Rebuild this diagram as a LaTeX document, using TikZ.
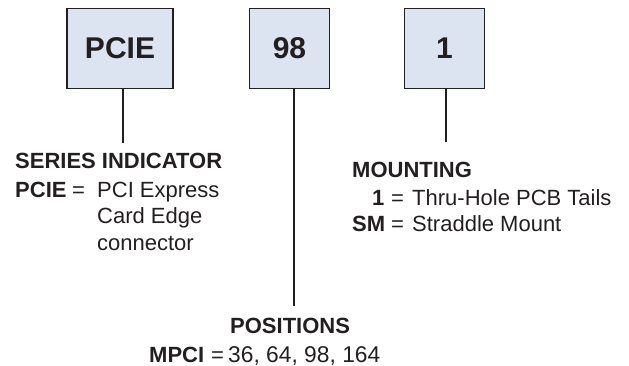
\documentclass[tikz,border=0pt]{standalone}
\usepackage{fontspec}
\setmainfont{Liberation Sans}
\usetikzlibrary{positioning}
\definecolor{boxfill}{HTML}{DDE4F1}
\definecolor{ink}{HTML}{231F20}
\begin{document}
\begin{tikzpicture}[x=1pt,y=-1pt]
\tikzset{ codebox/.style={draw=ink, fill=boxfill, line width=1.1pt, minimum height=80pt,
          inner sep=0pt, text=ink, font=\fontsize{30}{34}\selectfont\bfseries},
          leader/.style={draw=ink, line width=1.5pt},
          txt/.style={anchor=base west, inner sep=0pt, text=ink, font=\fontsize{22}{26}\selectfont},
}
\useasboundingbox (0,0) rectangle (629,366);

%\draw [lightgray, dashed](0,0) grid[step=50] (629,366);

\node [codebox, minimum width=106pt] (pcie) at (120.0,48.5) {PCIE};
\node [codebox, minimum width=80pt]  (pos)  at (289.5,48.5) {98};
\node [codebox, minimum width=80pt]  (mnt)  at (444.5,48.5) {1};

\coordinate (pcieend) at (123,143);
\coordinate (posend)  at (294,306);
\coordinate (mntend)  at (446,142);

\draw [leader] (pcieend |- pcie.south) -- (pcieend);
\draw [leader] (posend  |- pos.south)  -- (posend);
\draw [leader] (mntend  |- mnt.south)  -- (mntend);

% series indicator
\node [txt] (serhead) at (15,169) {\bfseries SERIES INDICATOR};
\node [txt] (serkey)  at (15,197) {\bfseries PCIE};
\node [txt] (sereq)   at (72,197) {=};
\node [txt] (serval1) at (97,197) {PCI Express};
\node [txt] (serval2) at (97,223) {Card Edge};
\node [txt] (serval3) at (97,250) {connector};

% mounting
\node [txt] (mnthead) at (352,178) {\bfseries MOUNTING};
\node [txt] (mntkey1) at (372,206) {\bfseries 1};
\node [txt] (mnteq1)  at (391,206) {=};
\node [txt] (mntval1) at (412,206) {Thru-Hole PCB Tails};
\node [txt] (mntkey2) at (352,232) {\bfseries SM};
\node [txt] (mnteq2)  at (391,232) {=};
\node [txt] (mntval2) at (412,232) {Straddle Mount};

% positions
\node [txt] (poshead) at (230,333) {\bfseries POSITIONS};
\node [txt] (poskey)  at (149,362) {\bfseries MPCI};
\node [txt] (poseq)   at (211,362) {=};
\node [txt, font=\fontsize{22.8}{26}\selectfont] (posval) at (228,362) {36, 64, 98, 164};

\end{tikzpicture}
\end{document}
